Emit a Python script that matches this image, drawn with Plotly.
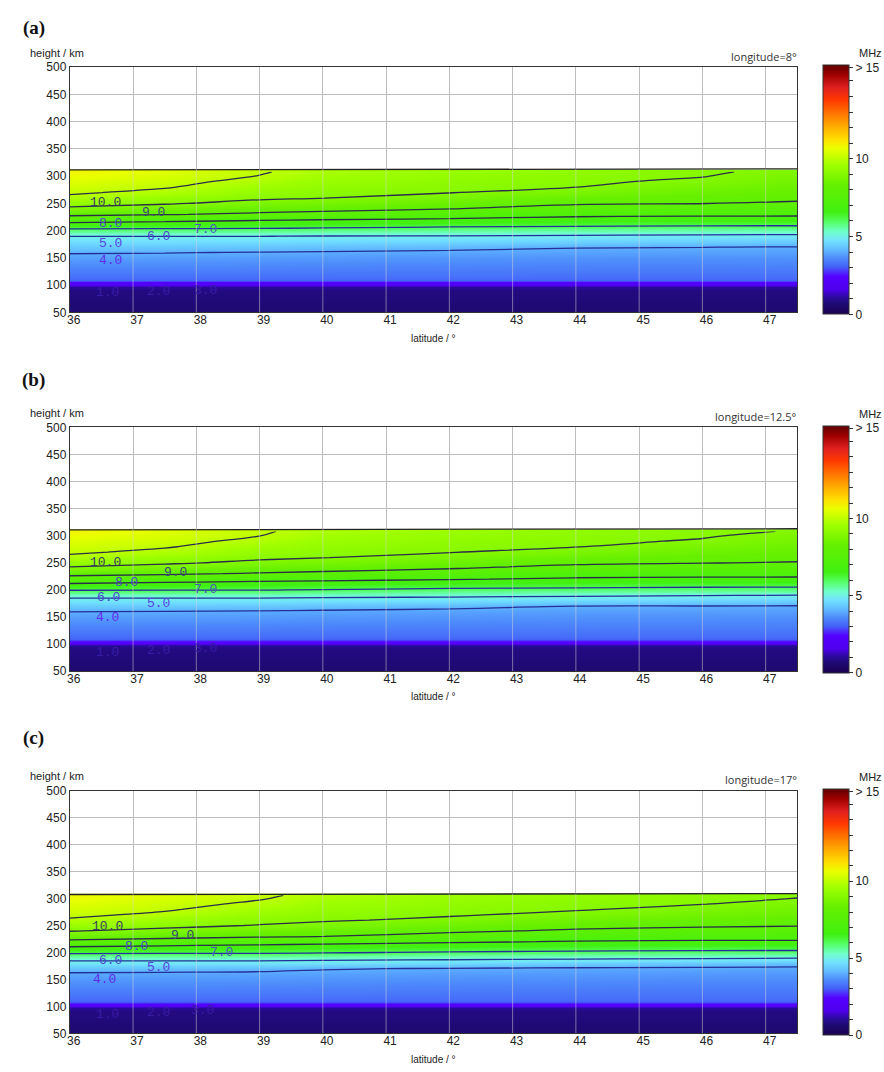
import numpy as np
import plotly.graph_objects as go

# ---------------- data ----------------
LATS = [36, 37.5, 39, 40, 42, 44, 46, 47.5]          # latitude columns (deg)
LOW_H = [50, 90, 98, 101, 106, 109, 114]               # heights (km), lower part
LOW_F = [0.6, 0.8, 1.0, 2.0, 2.4, 3.05, 3.2]           # plasma frequency (MHz), same for all columns
UP_H = [150, 160, 170, 180, 190, 200, 210, 220, 230, 240, 250, 260, 270, 280, 290, 300]
TOP_H = [308, 308, 306]                                 # last data row per panel (km)

# frequency (MHz) per latitude column at UP_H + top row
FREQ_A = [
    [3.83, 4.05, 4.37, 4.68, 5.01, 5.71, 6.57, 7.44, 8.19, 8.81, 9.33, 9.81, 10.11, 10.30, 10.48, 10.67, 10.85],
    [3.82, 4.02, 4.34, 4.67, 5.01, 5.71, 6.47, 7.27, 8.05, 8.58, 9.07, 9.43, 9.79, 10.06, 10.21, 10.35, 10.50],
    [3.79, 3.98, 4.31, 4.66, 5.01, 5.71, 6.40, 7.08, 7.85, 8.35, 8.78, 9.11, 9.33, 9.56, 9.78, 9.98, 10.06],
    [3.76, 3.95, 4.25, 4.62, 4.98, 5.66, 6.33, 6.99, 7.71, 8.24, 8.64, 9.01, 9.16, 9.31, 9.46, 9.60, 9.75],
    [3.72, 3.90, 4.16, 4.56, 4.96, 5.56, 6.20, 6.87, 7.44, 8.01, 8.36, 8.71, 9.02, 9.13, 9.24, 9.34, 9.45],
    [3.69, 3.85, 4.04, 4.48, 4.91, 5.50, 6.12, 6.71, 7.23, 7.68, 8.09, 8.41, 8.72, 9.01, 9.09, 9.17, 9.25],
    [3.68, 3.84, 4.01, 4.43, 4.87, 5.44, 6.06, 6.65, 7.17, 7.58, 8.01, 8.22, 8.44, 8.67, 8.89, 9.02, 9.05],
    [3.67, 3.83, 3.98, 4.39, 4.83, 5.40, 6.06, 6.65, 7.15, 7.54, 7.92, 8.12, 8.28, 8.43, 8.59, 8.74, 8.90],
]
FREQ_B = [
    [3.81, 4.01, 4.38, 4.75, 5.26, 6.04, 6.86, 7.58, 8.25, 8.88, 9.37, 9.83, 10.12, 10.31, 10.49, 10.68, 10.85],
    [3.79, 3.98, 4.35, 4.74, 5.26, 6.03, 6.72, 7.43, 8.11, 8.63, 9.11, 9.46, 9.82, 10.07, 10.22, 10.37, 10.50],
    [3.77, 3.95, 4.31, 4.73, 5.26, 6.03, 6.64, 7.27, 7.93, 8.39, 8.83, 9.14, 9.36, 9.59, 9.82, 10.01, 10.08],
    [3.74, 3.92, 4.24, 4.69, 5.22, 5.96, 6.58, 7.19, 7.81, 8.28, 8.68, 9.03, 9.18, 9.33, 9.48, 9.63, 9.77],
    [3.71, 3.87, 4.13, 4.63, 5.17, 5.83, 6.45, 7.05, 7.55, 8.04, 8.39, 8.75, 9.03, 9.15, 9.26, 9.37, 9.47],
    [3.67, 3.83, 3.99, 4.53, 5.10, 5.77, 6.35, 6.89, 7.33, 7.75, 8.13, 8.44, 8.75, 9.02, 9.11, 9.20, 9.28],
    [3.66, 3.82, 3.98, 4.47, 5.03, 5.70, 6.30, 6.84, 7.27, 7.65, 8.02, 8.26, 8.49, 8.72, 8.95, 9.05, 9.10],
    [3.65, 3.81, 3.96, 4.42, 4.97, 5.68, 6.30, 6.84, 7.25, 7.61, 7.96, 8.15, 8.32, 8.48, 8.65, 8.82, 8.97],
]
FREQ_C = [
    [3.74, 3.92, 4.25, 4.73, 5.36, 6.16, 6.95, 7.78, 8.45, 9.04, 9.48, 9.91, 10.15, 10.33, 10.51, 10.69, 10.80],
    [3.73, 3.90, 4.21, 4.72, 5.36, 6.14, 6.81, 7.61, 8.27, 8.79, 9.20, 9.53, 9.87, 10.08, 10.23, 10.37, 10.45],
    [3.71, 3.88, 4.15, 4.70, 5.36, 6.12, 6.71, 7.39, 8.10, 8.53, 8.96, 9.20, 9.42, 9.64, 9.87, 10.05, 10.12],
    [3.69, 3.85, 4.04, 4.64, 5.31, 6.06, 6.65, 7.29, 8.01, 8.41, 8.80, 9.08, 9.24, 9.39, 9.55, 9.71, 9.80],
    [3.65, 3.81, 3.96, 4.54, 5.24, 5.93, 6.53, 7.11, 7.68, 8.15, 8.51, 8.86, 9.07, 9.19, 9.31, 9.43, 9.50],
    [3.62, 3.77, 3.92, 4.39, 5.17, 5.86, 6.42, 6.95, 7.41, 7.88, 8.23, 8.54, 8.85, 9.05, 9.15, 9.26, 9.32],
    [3.61, 3.76, 3.91, 4.30, 5.10, 5.79, 6.37, 6.89, 7.34, 7.76, 8.10, 8.34, 8.57, 8.81, 9.02, 9.10, 9.15],
    [3.61, 3.75, 3.89, 4.22, 5.04, 5.78, 6.37, 6.89, 7.31, 7.70, 8.04, 8.24, 8.43, 8.62, 8.81, 8.99, 9.05],
]

# top boundary of the data region (km) at lat 36 and 47.5
TOP_LINE_LAT = [36, 47.5]
TOP_LINE = [[311.5, 313.5], [311, 313], [307.5, 309]]

# contour label texts and positions (lat, km)
LBL_TEXT = ["10.0", "9.0", "8.0", "7.0", "6.0", "5.0", "4.0", "1.0", "2.0", "3.0"]
LBL_COLOR = ["#3b4060", "#3a4878", "#4c46c8", "#4a56c0", "#4c44d2", "#5842e0", "#6028f0",
             "#3a1ca6", "#3a1ca6", "#3a1ca6"]
LBL_LAT = [
    [36.57, 37.33, 36.65, 38.14, 37.40, 36.65, 36.65, 36.60, 37.40, 38.15],
    [36.57, 37.67, 36.89, 38.14, 36.62, 37.40, 36.60, 36.60, 37.40, 38.14],
    [36.60, 37.78, 37.05, 38.40, 36.65, 37.40, 36.55, 36.60, 37.40, 38.10],
]
LBL_H = [
    [251.3, 233.2, 213.8, 201.6, 189.0, 175.7, 145.5, 86.4, 88.2, 91.1],
    [251.5, 233.0, 213.5, 201.0, 186.6, 174.5, 149.0, 85.0, 89.0, 92.7],
    [248.0, 231.5, 210.6, 200.7, 184.3, 172.0, 150.7, 85.4, 89.0, 92.7],
]

PANEL_TAGS = ["(a)", "(b)", "(c)"]
LONGITUDES = ["longitude=8°", "longitude=12.5°", "longitude=17°"]
X_TICKS = list(range(36, 48))
Y_TICKS = list(range(50, 501, 50))
CB_TICKS = list(range(0, 16)) + [15.85]
CB_TEXT = ["0", "", "", "", "", "5", "", "", "", "", "10", "", "", "", "", "", "> 15"]
ZMIN, ZMAX = 0, 16

COLORSCALE = [
    [0.0, "#1a0050"], [0.04, "#1e0a72"], [0.065, "#2a0a9a"], [0.10, "#5000ee"],
    [0.15, "#5500ff"], [0.19, "#4462f8"], [0.225, "#4e8cfc"], [0.26, "#62bcff"],
    [0.295, "#72e2ff"], [0.33, "#70ffcc"], [0.37, "#54ff64"], [0.41, "#40f010"],
    [0.52, "#66f000"], [0.60, "#a0ff00"], [0.665, "#eaff00"], [0.70, "#ffe000"],
    [0.75, "#ffb000"], [0.81, "#ff7000"], [0.86, "#ff3800"], [0.91, "#e02020"],
    [0.96, "#a00000"], [1.0, "#600000"],
]

# ---------------- layout geometry (pixels) ----------------
W, H = 884, 1072
PL, PR = 67, 797
TOPS = [61, 426, 794]
BOTS = [309.5, 673, 1040]
HEAD_Y = [21.7, 378, 741]
CB_L, CB_T = 823, 26
SANS = "Liberation Sans, Arial, sans-serif"
MONO = "Liberation Mono, DejaVu Sans Mono, monospace"

fig = go.Figure()
layout = dict(width=W, height=H, margin=dict(l=0, r=0, t=0, b=0),
              paper_bgcolor="white", plot_bgcolor="white", showlegend=False)
annotations = []
shapes = []


def ptext(txt, px, py, size, color="#222", family=SANS, xanchor="center"):
    annotations.append(dict(x=px / W, y=1 - py / H, xref="paper", yref="paper", text=txt,
                            showarrow=False, xanchor=xanchor, yanchor="middle",
                            font=dict(size=size, color=color, family=family)))


for i, freq in enumerate([FREQ_A, FREQ_B, FREQ_C]):
    sx = "" if i == 0 else str(i + 1)
    xa, ya = "x" + sx, "y" + sx
    heights = LOW_H + UP_H + [TOP_H[i]]
    z = np.array([LOW_F + col for col in freq]).T
    top, bot = TOPS[i], BOTS[i]

    fig.add_trace(go.Heatmap(
        x=LATS, y=heights, z=z, zmin=ZMIN, zmax=ZMAX, zsmooth="best",
        colorscale=COLORSCALE, xaxis=xa, yaxis=ya, hoverinfo="skip",
        colorbar=dict(x=CB_L / W, xanchor="left", xpad=0, y=1 - (top + bot) / 2 / H,
                      yanchor="middle", ypad=0, len=bot - top, lenmode="pixels",
                      thickness=CB_T, thicknessmode="pixels", outlinewidth=1,
                      outlinecolor="#333", ticks="outside", ticklen=4, tickwidth=1,
                      tickcolor="#333", tickvals=CB_TICKS, ticktext=CB_TEXT,
                      tickfont=dict(size=12, color="#222", family=SANS)),
    ))
    fig.add_trace(go.Contour(
        x=LATS, y=heights, z=z, showscale=False, hoverinfo="skip",
        contours=dict(start=7, end=10, size=1, coloring="none"),
        line=dict(color="#2a2e48", width=1.3), xaxis=xa, yaxis=ya))
    fig.add_trace(go.Contour(
        x=LATS, y=heights, z=z, showscale=False, hoverinfo="skip",
        contours=dict(start=4, end=6, size=1, coloring="none"),
        line=dict(color="#24309a", width=1.3), xaxis=xa, yaxis=ya))
    fig.add_trace(go.Scatter(
        x=TOP_LINE_LAT, y=TOP_LINE[i], mode="lines", hoverinfo="skip",
        line=dict(color="#222", width=1.3), xaxis=xa, yaxis=ya))

    dom_y = [1 - bot / H, 1 - top / H]
    layout["xaxis" + sx] = dict(domain=[PL / W, PR / W], anchor=ya, range=[36, 47.5],
                                tickvals=X_TICKS, showgrid=True, gridcolor="#bdbdbd",
                                gridwidth=1, zeroline=False, showline=True, linecolor="#333",
                                linewidth=1, mirror=True, ticks="", ticklabelshift=4,
                                ticklabelstandoff=-4,
                                tickfont=dict(size=12, color="#222", family=SANS))
    layout["yaxis" + sx] = dict(domain=dom_y, anchor=xa, range=[50, 500], tickvals=Y_TICKS,
                                showgrid=True, gridcolor="#bdbdbd", gridwidth=1,
                                zeroline=False, showline=True, linecolor="#333",
                                linewidth=1, mirror=True, ticks="", ticklabelstandoff=0,
                                tickfont=dict(size=12, color="#222", family=SANS))

    # faint vertical grid lines visible through the coloured field
    for lat in X_TICKS[1:]:
        shapes.append(dict(type="line", xref=xa, yref=ya, x0=lat, x1=lat, y0=50,
                           y1=max(TOP_LINE[i]), layer="above",
                           line=dict(color="rgba(215,215,215,0.5)", width=1)))

    # contour labels
    for t, c, lx, ly in zip(LBL_TEXT, LBL_COLOR, LBL_LAT[i], LBL_H[i]):
        annotations.append(dict(x=lx, y=ly, xref=xa, yref=ya, text=t, showarrow=False,
                                xanchor="center", yanchor="middle",
                                font=dict(size=13, color=c, family=MONO)))

    # texts around the panel
    ptext("<b>" + PANEL_TAGS[i] + "</b>", 31, HEAD_Y[i], 19, "#111",
          "Liberation Serif, Times New Roman, serif")
    ptext("height / km", 25, top - 14.5, 11, "#222", SANS, "left")
    ptext(LONGITUDES[i], 799, top - 11, 11, "#333", "Open Sans, sans-serif", "right")
    ptext("MHz", 870, top - 14, 11, "#222")
    ptext("latitude / °", (PL + PR) / 2, bot + 26, 10, "#222")

layout["annotations"] = annotations
layout["shapes"] = shapes
fig.update_layout(**layout)
fig.write_html("out.html")
